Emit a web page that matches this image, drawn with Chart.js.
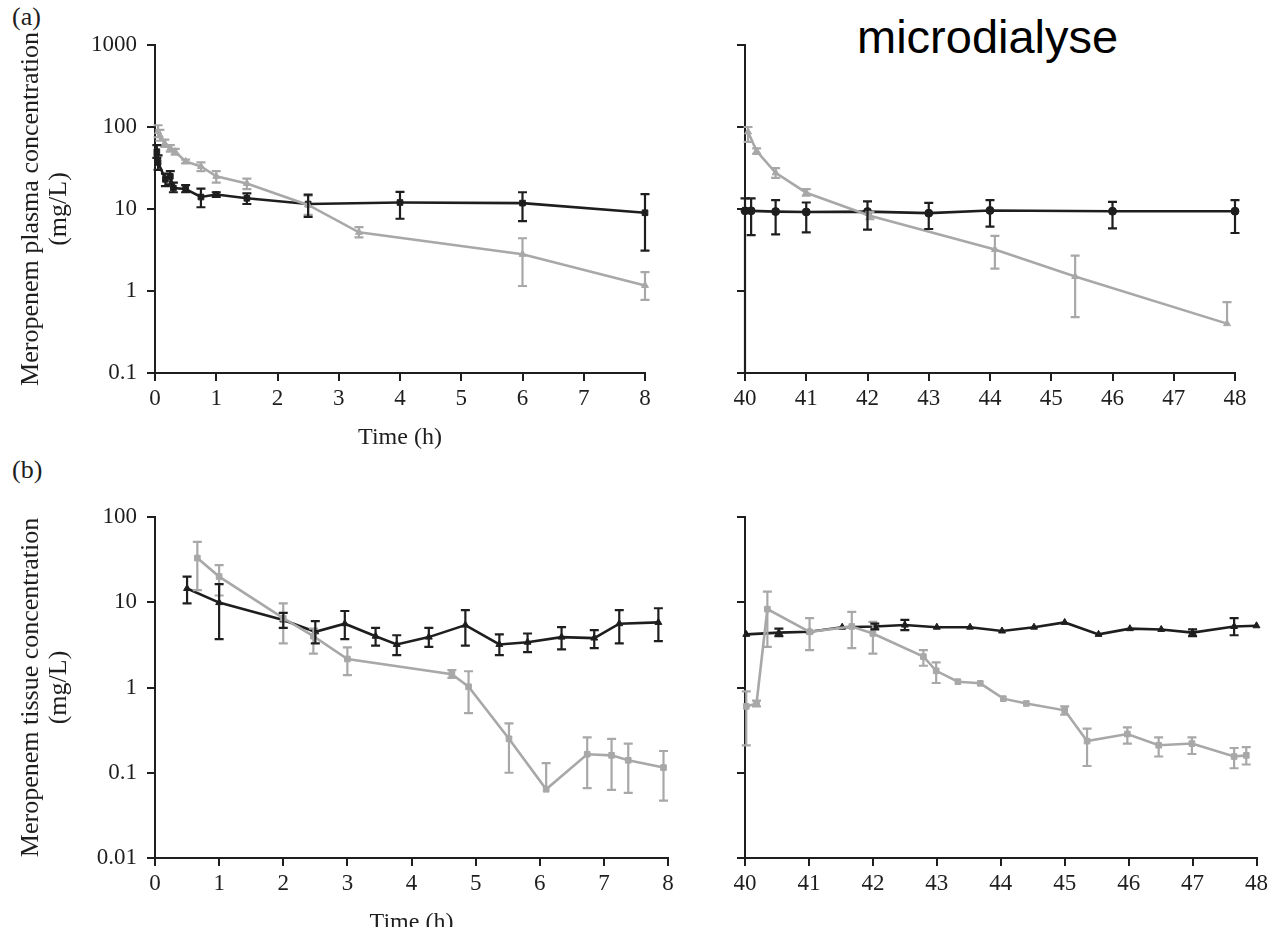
<!DOCTYPE html>
<html>
<head>
<meta charset="utf-8">
<script src="https://cdn.jsdelivr.net/npm/chart.js@4.4.1/dist/chart.umd.min.js"></script>
<style>
  html, body { margin: 0; padding: 0; background: #fff; overflow: hidden; }
  body { width: 1272px; height: 927px; position: relative; }
  canvas { position: absolute; }
  .lbl { position: absolute; font-family: "Liberation Serif", "Times New Roman", serif; font-size: 26px; color: #1e1e1e; }
  #micro { position: absolute; left: 857px; top: 13px; font-family: "Liberation Sans", Arial, sans-serif; font-size: 47px; line-height: 47px; color: #000; }
</style>
</head>
<body>
<div class="lbl" style="left:12px; top:2px">(a)</div>
<div class="lbl" style="left:12px; top:455px">(b)</div>
<div id="micro">microdialyse</div>
<canvas id="a1" style="left:0; top:0" width="690" height="451"></canvas>
<canvas id="a2" style="left:690px; top:0" width="582" height="451"></canvas>
<canvas id="b1" style="left:0; top:470px" width="690" height="466"></canvas>
<canvas id="b2" style="left:690px; top:470px" width="582" height="466"></canvas>
<script>
// ---- data ----

// (a) plasma, 0-8 h
const plasmaTimeBlack = [0.03, 0.05, 0.17, 0.25, 0.3, 0.5, 0.75, 1.0, 1.5, 2.5, 4.0, 6.0, 8.0];
const plasmaBlack     = [50, 37, 23, 25, 18, 17.5, 14, 15, 13.5, 11.5, 12, 11.8, 9];
const plasmaBlackLo   = [42, 30, 19, 20, 16, 16, 10.5, 14, 11.5, 8, 7.6, 7.1, 3.1];
const plasmaBlackHi   = [60, 45, 27, 29, 21, 19.5, 17.7, 16, 15.5, 15, 16.2, 16, 15.2];

const plasmaTimeGrey = [0.05, 0.08, 0.16, 0.25, 0.33, 0.5, 0.75, 1.0, 1.5, 2.5, 3.33, 6.0, 8.0];
const plasmaGrey     = [88, 79, 63, 55, 50, 38, 33, 25, 20.5, 11.2, 5.2, 2.8, 1.17];
const plasmaGreyLo   = [75, 68, 57, 50, 46, 36, 29, 21, 17.5, 8.5, 4.5, 1.15, 0.78];
const plasmaGreyHi   = [105, 92, 70, 60, 54, 40, 37, 29, 23.5, 14.5, 6, 4.4, 1.7];

// (a) plasma, 40-48 h
const plasmaLateTimeBlack = [40.0, 40.1, 40.5, 41.0, 42.0, 43.0, 44.0, 46.0, 48.0];
const plasmaLateBlack     = [9.5, 9.5, 9.3, 9.2, 9.3, 8.9, 9.6, 9.4, 9.4];
const plasmaLateBlackLo   = [0.02, 4.8, 4.9, 5.2, 5.6, 5.7, 6.1, 5.8, 5.1];
const plasmaLateBlackHi   = [13.5, 13.5, 12.8, 12, 12.4, 11.9, 12.8, 12.2, 12.8];

const plasmaLateTimeGrey = [40.05, 40.19, 40.5, 41.0, 42.04, 44.08, 45.39, 47.87];
const plasmaLateGrey     = [87, 51, 27.6, 15.8, 8.3, 3.2, 1.5, 0.4];
const plasmaLateGreyLo   = [66, 47, 24, 14.5, 7.5, 1.87, 0.48, null];
const plasmaLateGreyHi   = [100, 55, 31.6, 17.5, 9.2, 4.7, 2.7, 0.73];

// (b) tissue, 0-8 h
const tissueTimeBlack = [0.5, 1.0, 2.0, 2.5, 2.96, 3.44, 3.77, 4.27, 4.84, 5.37, 5.81, 6.34, 6.85, 7.24, 7.85];
const tissueBlack     = [14.5, 9.9, 6.2, 4.5, 5.6, 4.0, 3.2, 3.9, 5.4, 3.2, 3.4, 3.9, 3.8, 5.6, 5.8];
const tissueBlackLo   = [9.7, 3.7, 5.0, 3.3, 3.7, 3.1, 2.4, 3.0, 3.1, 2.4, 2.6, 2.8, 2.9, 3.3, 3.5];
const tissueBlackHi   = [20, 16.3, 7.5, 6.0, 7.9, 5.0, 4.1, 5.0, 8.1, 4.2, 4.3, 5.1, 4.7, 8.1, 8.5];

const tissueTimeGrey = [0.66, 1.0, 2.0, 2.47, 3.0, 4.63, 4.89, 5.52, 6.1, 6.74, 7.12, 7.38, 7.93];
const tissueGrey     = [33, 20, 6.5, 4.0, 2.16, 1.43, 1.02, 0.25, 0.064, 0.165, 0.16, 0.14, 0.115];
const tissueGreyLo   = [13.9, 12, 3.3, 2.5, 1.4, 1.3, 0.5, 0.10, null, 0.066, 0.063, 0.058, 0.047];
const tissueGreyHi   = [51, 27.3, 9.7, 4.9, 2.95, 1.6, 1.55, 0.38, 0.13, 0.26, 0.25, 0.22, 0.18];

// (b) tissue, 40-48 h
const tissueLateTimeBlack = [40.02, 40.53, 41.01, 41.52, 42.03, 42.5, 43.0, 43.52, 44.02, 44.52, 45.0, 45.53, 46.02, 46.51, 47.0, 47.65, 48.0];
const tissueLateBlack     = [4.2, 4.4, 4.5, 5.1, 5.2, 5.4, 5.1, 5.1, 4.6, 5.1, 5.8, 4.2, 4.9, 4.8, 4.4, 5.2, 5.3];
const tissueLateBlackLo   = [null, 4.0, null, null, 4.8, 4.7, null, null, null, null, null, null, null, null, 4.0, 4.1, null];
const tissueLateBlackHi   = [null, 4.9, null, null, 5.6, 6.2, null, null, null, null, null, null, null, null, 4.8, 6.5, null];

const tissueLateTimeGrey = [40.02, 40.18, 40.35, 41.01, 41.67, 42.0, 42.79, 42.99, 43.33, 43.68, 44.04, 44.4, 45.0, 45.35, 45.98, 46.47, 46.99, 47.65, 47.84];
const tissueLateGrey     = [0.6, 0.65, 8.3, 4.5, 5.2, 4.3, 2.3, 1.57, 1.17, 1.12, 0.74, 0.65, 0.54, 0.235, 0.285, 0.21, 0.22, 0.155, 0.16];
const tissueLateGreyLo   = [0.21, 0.6, 3.0, 2.75, 2.9, 2.5, 1.8, 1.13, null, null, null, null, 0.48, 0.12, 0.22, 0.155, 0.166, 0.113, 0.125];
const tissueLateGreyHi   = [0.9, 0.7, 13.3, 6.5, 7.7, 5.9, 2.75, 1.97, null, null, null, null, 0.6, 0.33, 0.34, 0.26, 0.26, 0.195, 0.2];

// axis ticks
const plasmaTicks  = [0.1, 1, 10, 100, 1000];
const plasmaLabels = ['0.1', '1', '10', '100', '1000'];
const tissueTicks  = [0.01, 0.1, 1, 10, 100];
const tissueLabels = ['0.01', '0.1', '1', '10', '100'];

const plasmaTitle = ['Meropenem plasma concentration', '(mg/L)'];
const tissueTitle = ['Meropenem tissue concentration', '(mg/L)'];

// ---- drawing ----
const SERIF = '"Liberation Serif", "Times New Roman", serif';
const INK = '#1e1e1e';
const GREY = '#a8a8a8';

const pts = (xs, ys) => xs.map((x, i) => ({ x: x, y: ys[i] }));

function series(xs, ys, lo, hi, color, style) {
    return {
        data: pts(xs, ys),
        errLo: lo,
        errHi: hi,
        borderColor: color,
        backgroundColor: color,
        pointBackgroundColor: color,
        pointBorderColor: color,
        borderWidth: 2.6,
        pointStyle: style,
        pointRadius: 4,
        pointBorderWidth: 1,
        tension: 0,
        clip: 12
    };
}

// vertical error bars with caps, drawn through the chart's scales
const errorBars = {
    id: 'errorBars',
    afterDatasetsDraw(chart) {
        const { ctx, chartArea: a, scales: { x, y } } = chart;
        ctx.save();
        ctx.beginPath();
        ctx.rect(a.left - 8, a.top - 8, a.right - a.left + 16, a.bottom - a.top + 8);
        ctx.clip();
        chart.data.datasets.forEach(ds => {
            if (!ds.errLo) return;
            ctx.strokeStyle = ds.borderColor;
            ctx.lineWidth = 2.2;
            ds.data.forEach((p, i) => {
                const lo = ds.errLo[i], hi = ds.errHi[i];
                if (lo == null && hi == null) return;
                const px = x.getPixelForValue(p.x);
                const py = y.getPixelForValue(p.y);
                const top = hi == null ? py : y.getPixelForValue(hi);
                const bot = lo == null ? py : y.getPixelForValue(lo);
                ctx.beginPath();
                ctx.moveTo(px, top);
                ctx.lineTo(px, bot);
                if (hi != null) { ctx.moveTo(px - 4.5, top); ctx.lineTo(px + 4.5, top); }
                if (lo != null) { ctx.moveTo(px - 4.5, bot); ctx.lineTo(px + 4.5, bot); }
                ctx.stroke();
            });
        });
        ctx.restore();
    }
};

function panel(id, o) {
    const axisLine = { color: INK, width: 2 };
    const tickMarks = { drawOnChartArea: false, tickLength: 8, color: INK, lineWidth: 2 };
    return new Chart(document.getElementById(id), {
        type: 'line',
        data: { datasets: o.datasets },
        options: {
            responsive: false,
            animation: false,
            events: [],
            layout: { padding: { top: o.padTop, right: o.padRight, left: 0, bottom: 0 } },
            plugins: { legend: { display: false }, tooltip: { enabled: false } },
            scales: {
                x: {
                    type: 'linear',
                    min: o.xMin,
                    max: o.xMax,
                    ticks: { stepSize: 1, color: INK, padding: 4, maxRotation: 0, font: { family: SERIF, size: 23 } },
                    grid: tickMarks,
                    border: axisLine,
                    title: {
                        display: o.xTitle,
                        text: 'Time (h)',
                        color: INK,
                        padding: { top: 0, bottom: 0 },
                        font: { family: SERIF, size: 24, lineHeight: 1.1 }
                    },
                    afterFit: s => { s.height = 78; }
                },
                y: {
                    type: 'logarithmic',
                    min: o.yTicks[0],
                    max: o.yTicks[o.yTicks.length - 1],
                    afterBuildTicks: s => { s.ticks = o.yTicks.map(v => ({ value: v })); },
                    ticks: {
                        display: !!o.yTitle,
                        color: INK,
                        padding: 10,
                        font: { family: SERIF, size: 23 },
                        callback: v => o.yLabels[o.yTicks.indexOf(v)]
                    },
                    grid: tickMarks,
                    border: axisLine,
                    title: {
                        display: !!o.yTitle,
                        text: o.yTitle || '',
                        color: INK,
                        padding: { top: 18, bottom: 0 },
                        font: { family: SERIF, size: 26, lineHeight: 1.05 }
                    },
                    afterFit: s => { s.width = o.yWidth; }
                }
            }
        },
        plugins: [errorBars]
    });
}

panel('a1', {
    xMin: 0, xMax: 8, xTitle: true, yTicks: plasmaTicks, yLabels: plasmaLabels, yTitle: plasmaTitle,
    yWidth: 155, padTop: 45, padRight: 45,
    datasets: [
        series(plasmaTimeGrey, plasmaGrey, plasmaGreyLo, plasmaGreyHi, GREY, 'triangle'),
        series(plasmaTimeBlack, plasmaBlack, plasmaBlackLo, plasmaBlackHi, INK, 'rect')
    ]
});

panel('a2', {
    xMin: 40, xMax: 48, xTitle: false, yTicks: plasmaTicks, yLabels: plasmaLabels, yTitle: null,
    yWidth: 55, padTop: 45, padRight: 37,
    datasets: [
        series(plasmaLateTimeGrey, plasmaLateGrey, plasmaLateGreyLo, plasmaLateGreyHi, GREY, 'triangle'),
        series(plasmaLateTimeBlack, plasmaLateBlack, plasmaLateBlackLo, plasmaLateBlackHi, INK, 'circle')
    ]
});

panel('b1', {
    xMin: 0, xMax: 8, xTitle: true, yTicks: tissueTicks, yLabels: tissueLabels, yTitle: tissueTitle,
    yWidth: 155, padTop: 47, padRight: 22,
    datasets: [
        series(tissueTimeGrey, tissueGrey, tissueGreyLo, tissueGreyHi, GREY, 'rect'),
        series(tissueTimeBlack, tissueBlack, tissueBlackLo, tissueBlackHi, INK, 'triangle')
    ]
});

panel('b2', {
    xMin: 40, xMax: 48, xTitle: false, yTicks: tissueTicks, yLabels: tissueLabels, yTitle: null,
    yWidth: 55, padTop: 47, padRight: 12,
    datasets: [
        series(tissueLateTimeGrey, tissueLateGrey, tissueLateGreyLo, tissueLateGreyHi, GREY, 'rect'),
        series(tissueLateTimeBlack, tissueLateBlack, tissueLateBlackLo, tissueLateBlackHi, INK, 'triangle')
    ]
});
</script>
</body>
</html>
